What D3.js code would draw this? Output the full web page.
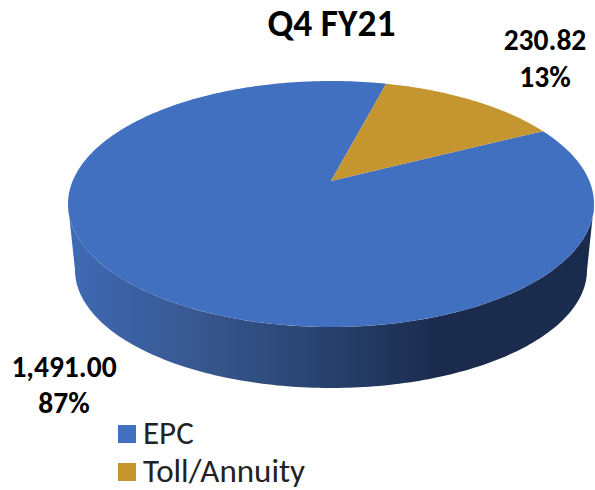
<!DOCTYPE html>
<html><head><meta charset="utf-8">
<script src="https://cdn.jsdelivr.net/npm/d3@7/dist/d3.min.js"></script>
<style>html,body{margin:0;padding:0;background:#fff}svg{display:block}text{font-family:Carlito,Lato,sans-serif}</style>
</head><body><svg id="c" width="595" height="490"></svg>
<script>
const categories = ["EPC", "Toll/Annuity"];
const seriesValues = [1491.00, 230.82];
const valueLabels = ["1,491.00", "230.82"];
const percentLabels = ["87%", "13%"];
const chartTitle = "Q4 FY21";
const colors = ["#4270C0", "#C5962F"];

const cx = 331, ecy = 204, rx = 263, ry = 123, apexY = 181;
const bottomCy = 270, bottomRx = 256, bottomRy = 118;
const tollStart = 0.255;
const svg = d3.select("#c");
const defs = svg.append("defs");
const grad = defs.append("linearGradient").attr("id","side").attr("gradientUnits","userSpaceOnUse")
  .attr("x1",cx-rx).attr("x2",cx+rx).attr("y1",0).attr("y2",0);
[[0,"#3F6AB5"],[0.25,"#38578F"],[0.48,"#28436F"],[0.7,"#1B2B4E"],[1,"#1A2C4E"]].forEach(s=>grad.append("stop").attr("offset",s[0]).attr("stop-color",s[1]));

const total = d3.sum(seriesValues);
const epcStart = tollStart + seriesValues[1]/total*2*Math.PI;
const pie = d3.pie().sort(null).startAngle(epcStart).endAngle(epcStart+2*Math.PI)(seriesValues);
const sx = d3.scaleLinear().domain([-1,1]).range([cx-rx,cx+rx]);
const sy = d3.scaleLinear().domain([-1,1]).range([ecy-ry,ecy+ry]);
const v0 = (apexY-ecy)/ry;
// perspective: disc map that sends the pie centre to the apex
const proj = a => {
  const u=Math.sin(a), v=-Math.cos(a), k=1+v*v0;
  return [sx(u*Math.sqrt(1-v0*v0)/k), sy((v+v0)/k)];
};

// side wall
const line = d3.line();
const topEdge=d3.range(0,Math.PI+0.001,0.02).map(t=>[cx+rx*Math.cos(t),ecy+ry*Math.sin(t)]);
const botEdge=d3.range(Math.PI,-0.001,-0.02).map(t=>[cx+bottomRx*Math.cos(t),bottomCy+bottomRy*Math.sin(t)]);
svg.append("path").attr("d",line(topEdge.concat(botEdge))+"Z").attr("fill","url(#side)");

// top slices
svg.selectAll("path.slice").data(pie).join("path").attr("class","slice")
 .attr("fill",(d,i)=>colors[i])
 .attr("d",d=>{
   const p=[[cx,apexY]];
   for(let a=d.startAngle;a<d.endAngle;a+=0.01)p.push(proj(a));
   p.push(proj(d.endAngle));
   return line(p)+"Z";
 });

svg.append("text").attr("x",331.5).attr("y",36).attr("text-anchor","middle").attr("font-size",37.5).attr("font-weight",700).text(chartTitle);
const labelPos=[[64,377,413],[545,50,87]];
labelPos.forEach((l,i)=>{
  svg.append("text").attr("x",l[0]).attr("y",l[1]).attr("text-anchor","middle").attr("font-size",29.5).attr("font-weight",700).text(valueLabels[i]);
  svg.append("text").attr("x",l[0]).attr("y",l[2]).attr("text-anchor","middle").attr("font-size",29.5).attr("font-weight",700).text(percentLabels[i]);
});
categories.forEach((c,i)=>{
  const y=433+i*38;
  svg.append("rect").attr("x",118).attr("y",y-8).attr("width",18).attr("height",18).attr("fill",colors[i]);
  svg.append("text").attr("x",143).attr("y",y+11).attr("font-size",33).attr("fill","#222").text(c);
});
</script></body></html>
